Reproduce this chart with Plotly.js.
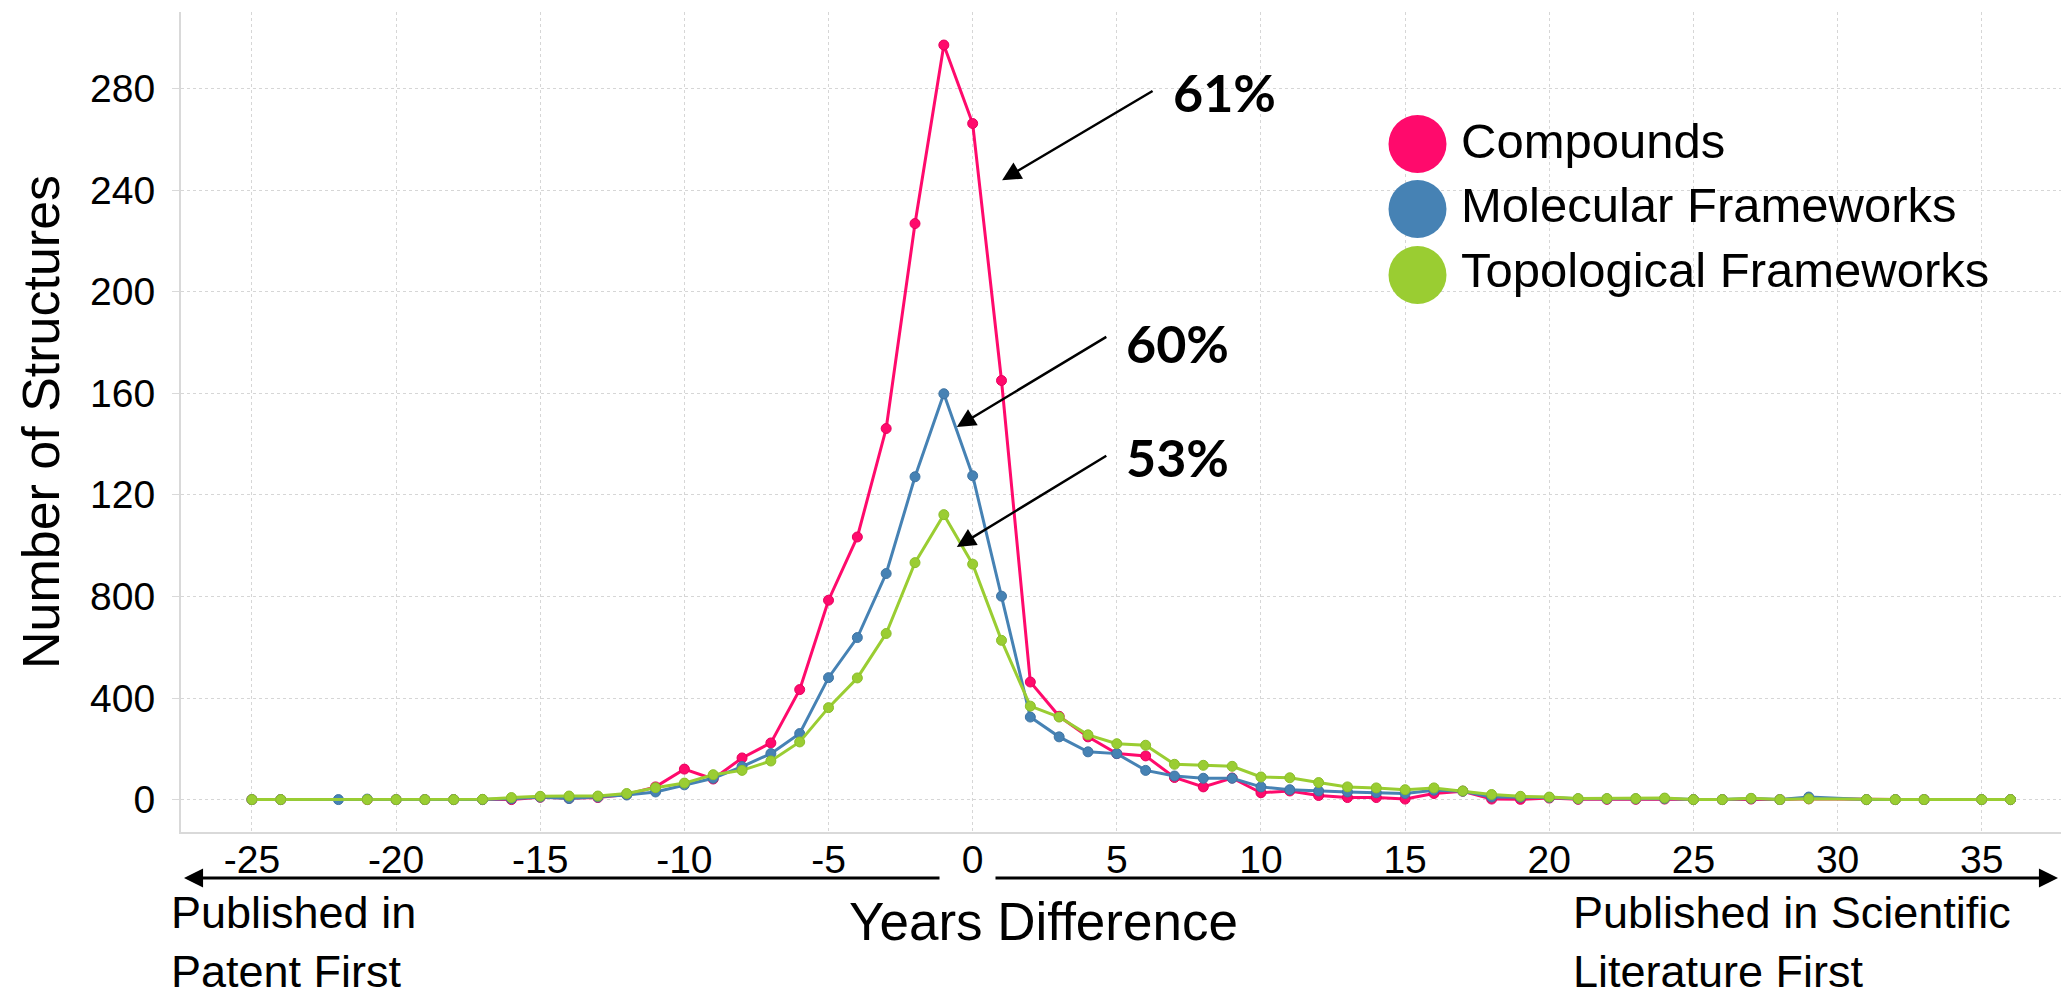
<!DOCTYPE html>
<html>
<head>
<meta charset="utf-8">
<script src="https://cdn.plot.ly/plotly-3.0.1.min.js"></script>
<style>
html,body{margin:0;padding:0;background:#ffffff;}
#chart{width:2061px;height:998px;}
</style>
</head>
<body>
<div id="chart"></div>
<script>
// ---------------- data ----------------
const years = [-25,-24,-23,-22,-21,-20,-19,-18,-17,-16,-15,-14,-13,-12,-11,-10,-9,-8,-7,-6,-5,-4,-3,-2,-1,0,1,2,3,4,5,6,7,8,9,10,11,12,13,14,15,16,17,18,19,20,21,22,23,24,25,26,27,28,29,30,31,32,33,34,35,36];

const compounds = [0,0,null,null,0,0,0,0,0,0,9,5,8,20,50,120,81,164,223,433,785,1034,1461,2268,2971,2662,1650,463,328,247,181,172,87,50,85,27,34,16,8,8,2,24,33,2,1,6,1,1,1,2,0,0,2,0,3,null,0,0,0,null,0,0];

const molecularFrameworks = [0,0,null,0,2,0,0,0,0,3,10,4,10,18,30,58,84,130,181,260,480,638,890,1271,1598,1275,801,325,247,188,181,115,93,84,84,50,39,34,30,27,24,37,33,10,9,8,3,3,3,4,0,0,4,0,10,null,0,0,0,null,0,0];

const topologicalFrameworks = [0,0,null,null,0,0,0,0,1,8,13,14,14,24,47,65,98,115,152,227,362,479,654,933,1122,927,627,368,325,255,220,214,139,135,131,89,86,67,50,46,39,46,34,20,13,10,4,4,4,6,0,0,5,0,3,null,0,0,0,null,0,0];

const seriesNames = ['Compounds', 'Molecular Frameworks', 'Topological Frameworks'];
const seriesColors = ['#FF0A6C', '#4682B4', '#9ACD32'];
const markerEdge = ['#E8005E', '#3F74A3', '#8BBE2A'];

const xTickVals = [-25,-20,-15,-10,-5,0,5,10,15,20,25,30,35];
const xTickText = ['-25','-20','-15','-10','-5','0','5','10','15','20','25','30','35'];
const yTickVals = [0,400,800,1200,1600,2000,2400,2800];
const yTickText = ['0','400','800','120','160','200','240','280'];

const calloutTexts = ['61%', '60%', '53%'];

// ---------------- plot ----------------
const FONT = 'Liberation Sans, Arial, sans-serif';
const seriesValues = [compounds, molecularFrameworks, topologicalFrameworks];

const traces = seriesValues.map((vals, i) => ({
  type: 'scatter',
  mode: 'lines+markers',
  name: seriesNames[i],
  x: years,
  y: vals,
  connectgaps: true,
  line: {color: seriesColors[i], width: 3},
  marker: {color: seriesColors[i], size: 10, line: {color: markerEdge[i], width: 1}},
  showlegend: false,
  hoverinfo: 'x+y+name'
}));

// plot-area geometry (pixels) used to place layout items in paper coordinates
const W = 2061, H = 998;
const L = 181, R = 0, T = 12, B = 166;
const pw = W - L - R, ph = H - T - B;
const px = v => (v - L) / pw;
const py = v => (H - B - v) / ph;

const annotations = [];
const shapes = [];

// custom legend (big round keys)
shapes.push({type: 'rect', xref: 'paper', yref: 'paper', layer: 'between',
  x0: px(1372), x1: px(2035), y0: py(333), y1: py(102),
  fillcolor: '#ffffff', line: {width: 0}});
const legendCircleY = [144, 209, 275];
const legendTextY = [141, 205, 270];
seriesNames.forEach((nm, i) => {
  shapes.push({type: 'circle', xref: 'paper', yref: 'paper', layer: 'above',
    xsizemode: 'pixel', ysizemode: 'pixel',
    xanchor: px(1417.5), yanchor: py(legendCircleY[i]),
    x0: -29, x1: 29, y0: -29, y1: 29,
    fillcolor: seriesColors[i], line: {width: 0}});
  annotations.push({xref: 'paper', yref: 'paper', x: px(1459), y: py(legendTextY[i]),
    xanchor: 'left', yanchor: 'middle', showarrow: false, text: nm,
    font: {family: FONT, size: 49, color: '#000000'}});
});

// callout percentages with arrows
const calloutPos = [[8.72, 2786], [7.12, 1797], [7.12, 1348]];
const arrowTips = [[1.02, 2439, 152, -90], [-0.55, 1467, 151, -91], [-0.55, 995, 151, -92]];
calloutTexts.forEach((t, i) => {
  annotations.push({xref: 'x', yref: 'y', x: calloutPos[i][0], y: calloutPos[i][1],
    xanchor: 'center', yanchor: 'middle', showarrow: false, text: '<b>' + t + '</b>',
    font: {family: 'Lato, Open Sans, sans-serif', size: 52, color: '#000000'}});
  annotations.push({xref: 'x', yref: 'y', x: arrowTips[i][0], y: arrowTips[i][1],
    axref: 'pixel', ayref: 'pixel', ax: arrowTips[i][2], ay: arrowTips[i][3],
    text: '', showarrow: true, arrowhead: 2, arrowsize: 1.5, arrowwidth: 2.5,
    arrowcolor: '#000000', standoff: 0});
});

// direction arrows under the x axis
annotations.push({xref: 'paper', yref: 'paper', x: px(184), y: py(878),
  axref: 'pixel', ayref: 'pixel', ax: 757, ay: 0, text: '', showarrow: true,
  arrowhead: 2, arrowsize: 1.27, arrowwidth: 3, arrowcolor: '#000000', standoff: 0});
annotations.push({xref: 'paper', yref: 'paper', x: px(2058), y: py(878),
  axref: 'pixel', ayref: 'pixel', ax: -1064, ay: 0, text: '', showarrow: true,
  arrowhead: 2, arrowsize: 1.27, arrowwidth: 3, arrowcolor: '#000000', standoff: 0});

// x axis title and side captions
annotations.push({xref: 'paper', yref: 'paper', x: px(1043), y: py(921),
  xanchor: 'center', yanchor: 'middle', showarrow: false, text: 'Years Difference',
  font: {family: FONT, size: 53, color: '#000000'}});
annotations.push({xref: 'paper', yref: 'paper', x: px(169), y: py(885),
  xanchor: 'left', yanchor: 'top', align: 'left', showarrow: false,
  text: 'Published in<br>Patent First', font: {family: FONT, size: 45, color: '#000000'}});
annotations.push({xref: 'paper', yref: 'paper', x: px(1571), y: py(885),
  xanchor: 'left', yanchor: 'top', align: 'left', showarrow: false,
  text: 'Published in Scientific<br>Literature First', font: {family: FONT, size: 45, color: '#000000'}});

const layout = {
  width: W, height: H,
  margin: {l: L, r: R, t: T, b: B, pad: 0},
  paper_bgcolor: '#ffffff', plot_bgcolor: '#ffffff',
  font: {family: FONT, color: '#000000'},
  showlegend: false,
  xaxis: {
    range: [-27.46, 37.75], tickmode: 'array', tickvals: xTickVals, ticktext: xTickText,
    showgrid: true, gridcolor: '#d6d6d6', griddash: 'dot', gridwidth: 1,
    showline: true, linecolor: '#d9d9d9', linewidth: 2, zeroline: false,
    ticks: '', ticklabelstandoff: -8,
    tickfont: {family: FONT, size: 39, color: '#000000'}
  },
  yaxis: {
    range: [-127.6, 3101], tickmode: 'array', tickvals: yTickVals, ticktext: yTickText,
    showgrid: true, gridcolor: '#d6d6d6', griddash: 'dot', gridwidth: 1,
    showline: true, linecolor: '#d9d9d9', linewidth: 2, zeroline: false,
    ticks: 'outside', ticklen: 7, tickcolor: '#d9d9d9', ticklabelstandoff: 9,
    tickfont: {family: FONT, size: 39, color: '#000000'},
    title: {text: 'Number of Structures', standoff: 14, font: {family: FONT, size: 52, color: '#000000'}}
  },
  shapes: shapes,
  annotations: annotations
};

Plotly.newPlot('chart', traces, layout, {displayModeBar: false, staticPlot: true});
</script>
</body>
</html>
